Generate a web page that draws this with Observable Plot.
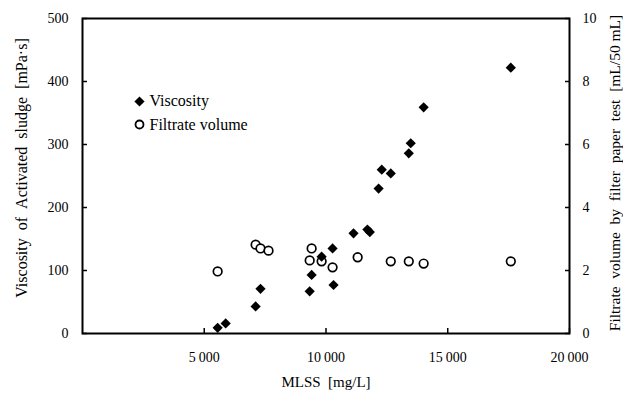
<!DOCTYPE html>
<html><head><meta charset="utf-8">
<script src="https://cdn.jsdelivr.net/npm/d3@7"></script>
<script src="https://cdn.jsdelivr.net/npm/@observablehq/plot@0.6"></script>
<style>body{margin:0;background:#fff}</style>
</head><body><div id="chart"></div>
<script>
const mlssVisc = [5550, 5880, 7110, 7310, 9330, 9410, 9820, 10270, 10310, 11130, 11700, 11800, 12160, 12290, 12660, 13400, 13480, 14010, 17590];
const viscosity = [9, 16, 43, 71, 67, 93, 122, 135, 77, 159, 165, 161, 230, 260, 254, 286, 302, 359, 422];
const mlssFilt = [5550, 7110, 7310, 7640, 9330, 9410, 9820, 10270, 11300, 12660, 13400, 14010, 17590];
const filtrate = [1.97, 2.82, 2.70, 2.63, 2.32, 2.70, 2.29, 2.10, 2.42, 2.29, 2.29, 2.22, 2.29];
const xTicks = [5000, 10000, 15000, 20000];
const yLeftTicks = [0, 100, 200, 300, 400, 500];
const yRightTicks = [0, 2, 4, 6, 8, 10];
const legendItems = ["Viscosity", "Filtrate volume"];
const xLabel = "MLSS\u00a0\u00a0[mg/L]";
const yLeftLabel = "Viscosity\u00a0\u00a0of\u00a0\u00a0Activated\u00a0\u00a0sludge\u00a0\u00a0[mPa·s]";
const yRightLabel = "Filtrate\u00a0 volume\u00a0 by\u00a0 filter\u00a0 paper\u00a0 test\u00a0 [mL/50\u00a0mL]";

const visc = mlssVisc.map((x, i) => ({x, y: viscosity[i]}));
const filt = mlssFilt.map((x, i) => ({x, v: filtrate[i]}));
const ratio = 500 / 10;
const fmt = d => d3.format(",")(d).replace(/,/g, "\u2009");

const chart = Plot.plot({
  width: 623, height: 396,
  marginLeft: 82, marginRight: 54, marginTop: 18, marginBottom: 63,
  style: {fontFamily: "'Liberation Serif', 'Times New Roman', serif", fontSize: "14px", color: "#000", background: "#fff"},
  x: {domain: [0, 20000]},
  y: {domain: [0, 500]},
  marks: [
    Plot.axisX(xTicks, {tickSize: -5, tickPadding: 24, tickFormat: fmt, label: null, strokeWidth: 1.5}),
    Plot.axisY(yLeftTicks, {anchor: "left", tickSize: -5, tickPadding: 19, label: null, strokeWidth: 1.5}),
    Plot.axisY(yRightTicks.map(d => d * ratio), {anchor: "right", tickSize: -5, tickPadding: 18, tickFormat: d => d / ratio, label: null, strokeWidth: 1.5}),
    Plot.text([xLabel], {text: d => d, frameAnchor: "bottom", dy: 49, lineAnchor: "middle", fontSize: 15}),
    Plot.text([yLeftLabel], {text: d => d, frameAnchor: "left", dx: -61, dy: -8, rotate: -90, textAnchor: "middle", lineAnchor: "middle", fontSize: 16}),
    Plot.text([yRightLabel], {text: d => d, frameAnchor: "right", dx: 46, dy: -3, rotate: -90, textAnchor: "middle", lineAnchor: "middle", fontSize: 15.5}),
    Plot.frame({stroke: "#000", strokeWidth: 2}),
    Plot.dot(filt, {x: "x", y: d => d.v * ratio, r: 4.3, stroke: "#000", strokeWidth: 1.7, fill: "#fff"}),
    Plot.dot(visc, {x: "x", y: "y", symbol: "diamond2", r: 4.6, fill: "#000", stroke: "none"}),
    Plot.dot([legendItems[0]], {frameAnchor: "top-left", dx: 57, dy: 83, symbol: "diamond2", r: 4.6, fill: "#000", stroke: "none"}),
    Plot.dot([legendItems[1]], {frameAnchor: "top-left", dx: 57, dy: 106, r: 4.0, stroke: "#000", strokeWidth: 1.8, fill: "#fff"}),
    Plot.text([legendItems[0]], {text: d => d, frameAnchor: "top-left", dx: 67, dy: 82, textAnchor: "start", lineAnchor: "middle", fontSize: 16}),
    Plot.text([legendItems[1]], {text: d => d, frameAnchor: "top-left", dx: 67, dy: 106, textAnchor: "start", lineAnchor: "middle", fontSize: 16})
  ]
});
document.getElementById("chart").appendChild(chart);
</script>
</body></html>
